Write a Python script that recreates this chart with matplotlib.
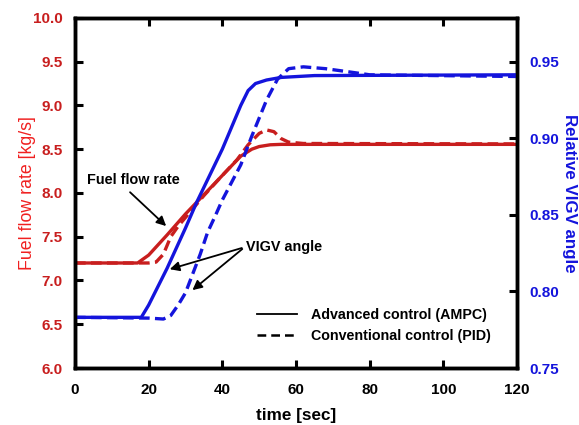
import numpy as np
import matplotlib.pyplot as plt

plt.rcParams['font.family'] = ['Liberation Sans', 'DejaVu Sans']
plt.rcParams['font.weight'] = 'bold'

RED = '#c81e1e'
BLUE = '#1414dc'

# fuel flow rate [kg/s]
t_fuel_ampc = [0, 17, 20, 25, 30, 35, 40, 45, 48, 50, 53, 56, 120]
fuel_ampc = [7.2, 7.2, 7.29, 7.52, 7.76, 7.98, 8.2, 8.42, 8.5, 8.53, 8.55, 8.555, 8.555]
t_fuel_pid = [0, 20, 22, 24, 26, 28, 30, 35, 40, 44, 47, 50, 52, 54, 56, 58, 62, 120]
fuel_pid = [7.2, 7.2, 7.21, 7.3, 7.5, 7.62, 7.72, 7.97, 8.2, 8.38, 8.55, 8.68, 8.72, 8.7,
            8.62, 8.58, 8.565, 8.56]

# relative VIGV angle
t_vigv_ampc = [0, 18, 20, 25, 30, 33, 40, 45, 47, 49, 52, 56, 65, 120]
vigv_ampc = [0.7831, 0.7831, 0.7911, 0.8151, 0.8414, 0.8580, 0.8929, 0.9214, 0.9311,
             0.9357, 0.9380, 0.9397, 0.9409, 0.9414]
t_vigv_pid = [0, 20, 24, 26, 28, 30, 32, 34, 36, 38, 40, 45, 48, 52, 55, 58, 62, 68, 75,
              80, 120]
vigv_pid = [0.7831, 0.7826, 0.7820, 0.7843, 0.7911, 0.7991, 0.8117, 0.8243, 0.8386,
            0.8489, 0.8597, 0.8826, 0.9014, 0.9249, 0.9386, 0.9454, 0.9466, 0.9454,
            0.9431, 0.9414, 0.9403]

fig = plt.figure(figsize=(5.79, 4.25), dpi=100)
ax = fig.add_axes([0.1295, 0.134, 0.7635, 0.824])
ax2 = ax.twinx()

dash = (0, (3.2, 1.6))
ax.plot(t_fuel_ampc, fuel_ampc, color=RED, lw=2.4)
ax.plot(t_fuel_pid, fuel_pid, color=RED, lw=2.4, ls=dash)
ax2.plot(t_vigv_ampc, vigv_ampc, color=BLUE, lw=2.4)
ax2.plot(t_vigv_pid, vigv_pid, color=BLUE, lw=2.4, ls=dash)

ax.set_xlim(0, 120)
ax.set_ylim(6.0, 10.0)
ax2.set_ylim(0.75, 0.75 + 4 * 0.2 / 3.5)
ax.set_xticks(range(0, 121, 20))
ax.set_yticks(np.arange(6.0, 10.01, 0.5))
ax2.set_yticks([0.75, 0.80, 0.85, 0.90, 0.95])
ax.set_yticklabels(['%.1f' % v for v in np.arange(6.0, 10.01, 0.5)])
ax2.set_yticklabels(['0.75', '0.80', '0.85', '0.90', '0.95'])

ax.tick_params(axis='x', direction='in', length=6, width=2.2, labelsize=11, pad=11, top=True)
ax.tick_params(axis='y', direction='in', length=6, width=2.2, labelsize=11, pad=9,
               labelcolor=RED)
ax2.tick_params(axis='y', direction='in', length=6, width=2.2, labelsize=11, pad=9,
                labelcolor=BLUE)
for a in (ax, ax2):
    for s in a.spines.values():
        s.set_linewidth(2.5)

ax.set_xlabel('time [sec]', fontsize=12.3, fontweight='bold', labelpad=8)
ax.set_ylabel('Fuel flow rate [kg/s]', fontsize=12.8, fontweight='normal', color='#f02020',
              labelpad=-2)
ax2.set_ylabel('Relative VIGV angle', fontsize=12.2, fontweight='bold', color=BLUE,
               rotation=270, labelpad=13)

arrow = dict(arrowstyle='-|>', color='black', lw=1.3, mutation_scale=14)
ax.annotate('', xy=(25.3, 7.6), xytext=(14.4, 8.03), arrowprops=arrow)
ax.text(3.3, 8.15, 'Fuel flow rate', fontsize=10.4, fontweight='bold', va='center')
ax.annotate('', xy=(25.0, 7.12), xytext=(46, 7.38), arrowprops=arrow)
ax.annotate('', xy=(31.3, 6.87), xytext=(46, 7.38), arrowprops=arrow)
ax.text(46.3, 7.38, 'VIGV angle', fontsize=10.4, fontweight='bold', va='center')

h1, = ax.plot([], [], color='black', lw=1.3)
h2, = ax.plot([], [], color='black', lw=1.8, ls=(0, (3.5, 2)))
ax.legend([h1, h2], ['Advanced control (AMPC)', 'Conventional control (PID)'],
          loc='lower right', bbox_to_anchor=(0.97, 0.035), frameon=False, fontsize=10.3,
          handlelength=2.8, labelspacing=0.45, handletextpad=1.0)

fig.savefig('out.png', dpi=100)
